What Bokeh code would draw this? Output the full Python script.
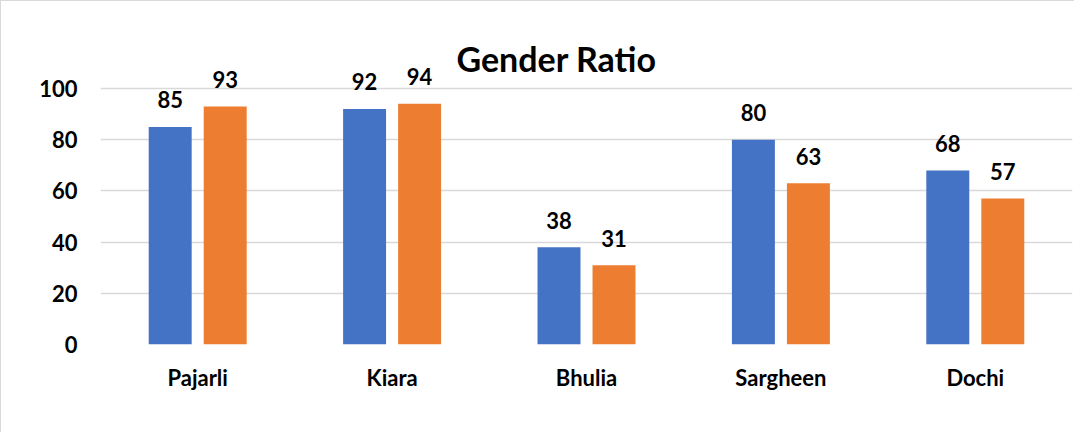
from bokeh.plotting import figure
from bokeh.models import ColumnDataSource, FactorRange, FixedTicker, Range1d, Label
from bokeh.transform import dodge
from bokeh.core.properties import value
from bokeh.embed import file_html
from bokeh.resources import INLINE

villages = ["Pajarli", "Kiara", "Bhulia", "Sargheen", "Dochi"]
series_a = [85, 92, 38, 80, 68]
series_b = [93, 94, 31, 63, 57]
y_ticks = [0, 20, 40, 60, 80, 100]
title_text = "Gender Ratio"

BLUE = "#4472C4"
ORANGE = "#ED7D31"
FONT = "Lato"

src = ColumnDataSource(dict(
    cat=villages, a=series_a, b=series_b,
    la=[str(v) for v in series_a], lb=[str(v) for v in series_b],
))

# frame: 2.56 px per unit; 0 line at y=343, top of frame at y=30
p = figure(
    x_range=FactorRange(*villages, range_padding=0),
    y_range=Range1d(0, 313 / 2.56),
    width=1074, height=432,
    output_backend="svg", toolbar_location=None,
    min_border_left=99, min_border_right=3,
    min_border_top=30, min_border_bottom=89,
)
p.styles = {"border-left": "1px solid #D9D9D9", "border-top": "1px solid #D9D9D9",
            "box-sizing": "border-box"}
p.outline_line_color = None
p.background_fill_color = "white"
p.border_fill_color = "white"

off = 0.1415
w = 0.221
p.vbar(x=dodge("cat", -off, range=p.x_range), top="a", width=w, source=src,
       fill_color=BLUE, line_color=None)
p.vbar(x=dodge("cat", off, range=p.x_range), top="b", width=w, source=src,
       fill_color=ORANGE, line_color=None)

for col, lab, o in (("a", "la", -off), ("b", "lb", off)):
    p.text(x=dodge("cat", o, range=p.x_range), y=col, text=lab, source=src,
           text_align="center", text_baseline="middle", y_offset=-27,
           text_font=value(FONT), text_font_size="22px",
           text_font_style="bold", text_color="black")

# chart title, centred over the whole chart area
p.add_layout(Label(x=2.346, y=111.7, text=title_text, text_align="center",
                   text_baseline="middle", text_font=FONT,
                   text_font_size="34px", text_font_style="bold",
                   text_color="black"))

p.yaxis.ticker = FixedTicker(ticks=y_ticks)
p.ygrid.ticker = FixedTicker(ticks=y_ticks)
p.ygrid.grid_line_color = "#D9D9D9"
p.ygrid.grid_line_width = 1.3
p.xgrid.grid_line_color = None

for ax in (p.xaxis[0], p.yaxis[0]):
    ax.axis_line_color = None
    ax.major_tick_line_color = None
    ax.minor_tick_line_color = None
    ax.major_label_text_font = FONT
    ax.major_label_text_font_style = "bold"
    ax.major_label_text_color = "black"
p.yaxis.major_label_text_font_size = "22px"
p.xaxis.major_label_text_font_size = "22px"
p.yaxis.major_label_standoff = 17
p.xaxis.major_label_standoff = 13

open("out.html", "w").write(file_html(p, INLINE))
